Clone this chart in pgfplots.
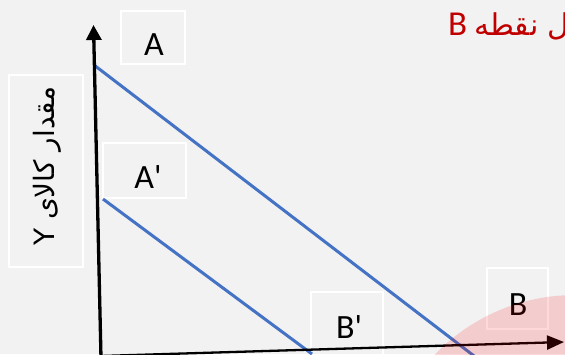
\documentclass[border=0pt]{standalone}
\usepackage{fontspec}
\usepackage{pgfplots}
\pgfplotsset{compat=1.18}
\usetikzlibrary{arrows.meta}
\setmainfont{Carlito}[Ligatures=TeXOff]
\newfontfamily\arabicfont[Script=Arabic]{DejaVu Sans}
\TeXXeTstate=1
\definecolor{bg}{HTML}{F2F2F2}
\definecolor{lineblue}{HTML}{4472C4}
\definecolor{titlered}{HTML}{C00000}

\begin{document}
\begin{tikzpicture}
\path[use as bounding box] (0,0) rectangle (565pt,354pt);
\clip (0,0) rectangle (565pt,354pt);
\begin{axis}[
  at={(0,0)}, anchor=south west,
  scale only axis, width=565pt, height=354pt,
  xmin=0, xmax=565, ymin=0, ymax=354, y dir=reverse,
  axis lines=none, ticks=none, clip=false
]
  % slide background
  \fill[bg] (axis cs:0,0) rectangle (axis cs:565,354);

  % label boxes
  \draw[white, line width=1.3pt] (axis cs:9,75) rectangle (axis cs:83,267);
  \draw[white, line width=1.3pt] (axis cs:121,11) rectangle (axis cs:185,64);
  \draw[white, line width=1.3pt] (axis cs:103,143) rectangle (axis cs:186,198);
  \draw[white, line width=1.3pt] (axis cs:311,292) rectangle (axis cs:383,362);
  \draw[white, line width=1.3pt] (axis cs:487,268) rectangle (axis cs:548,329);

  % budget lines
  \addplot[lineblue, line width=3pt] coordinates {(94,65) (482,362)};
  \addplot[lineblue, line width=3pt] coordinates {(103,199) (312,354)};

  % axes
  \addplot[black, line width=3.3pt, -{Triangle[width=15pt,length=15pt]}]
    coordinates {(101,358) (93.5,25)};
  \addplot[black, line width=2.3pt, -{Triangle[width=14pt,length=17pt]}]
    coordinates {(100,356) (564,342)};

  % texts
  \node[anchor=base, font=\fontsize{34}{40}\selectfont] at (axis cs:154,55) {A};
  \node[anchor=base, font=\fontsize{34}{40}\selectfont] at (axis cs:148,188) {A'};
  \node[anchor=base, font=\fontsize{34}{40}\selectfont] at (axis cs:349,338) {B'};
  \node[anchor=base, font=\fontsize{34}{40}\selectfont] at (axis cs:518,315) {B};
  \node[rotate=90, font=\fontsize{28}{32}\selectfont] at (axis cs:47,166)
    {\arabicfont\beginR مقدار کالای Y\endR};
  \node[anchor=base west, text=titlered, inner sep=0pt] at (axis cs:448,35)
    {\beginR{\arabicfont\fontsize{30}{36}\selectfont مثل نقطه}\hspace{7pt}{\fontsize{35}{42}\selectfont B}\endR};

  % highlight
  \fill[red, opacity=0.15] (axis cs:575,490) circle[radius=195pt];
\end{axis}
\end{tikzpicture}
\end{document}
